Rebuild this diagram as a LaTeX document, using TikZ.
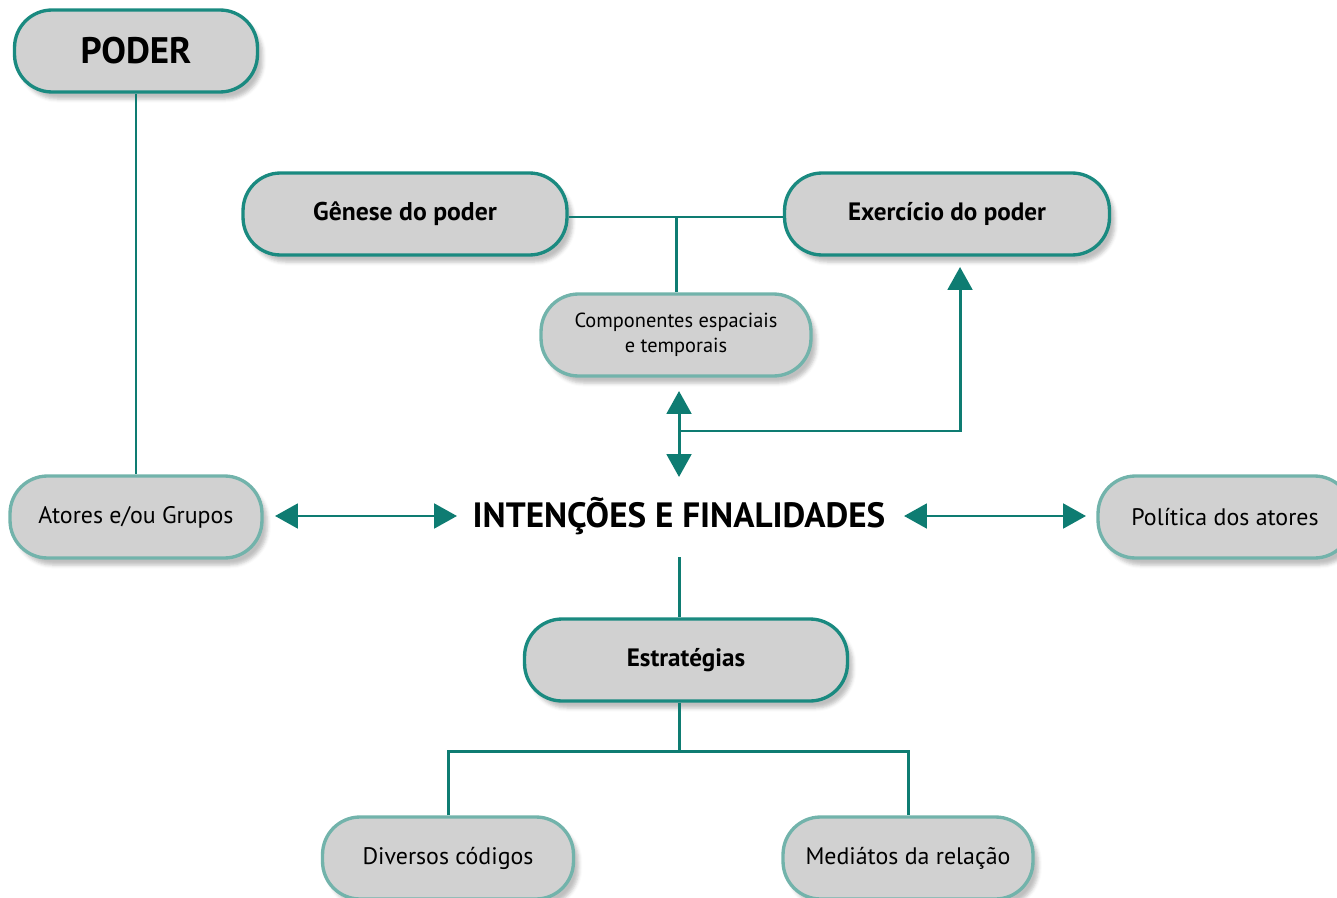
\documentclass[tikz,border=0pt]{standalone}
\usepackage{fontspec}
\setmainfont{PT Sans}
\usetikzlibrary{arrows.meta,shadows.blur}
\definecolor{tealline}{HTML}{0E7C72}
\definecolor{tealdark}{HTML}{1A8A80}
\definecolor{teallight}{HTML}{72B3AB}
\definecolor{boxgray}{HTML}{D1D1D1}
\tikzset{
  conceptbox/.style={rounded corners=0.75cm, fill=boxgray, line width=1.9pt,
    minimum height=1.64cm, align=center,
    blur shadow={shadow xshift=3pt, shadow yshift=-4pt, shadow opacity=25}},
  headbox/.style={conceptbox, draw=tealdark, font=\bfseries\fontsize{14.3}{16}\selectfont},
  leafbox/.style={conceptbox, draw=teallight, font=\fontsize{13.6}{16}\selectfont},
  link/.style={draw=tealline, line width=1.7pt},
  twoway/.style={link, {Triangle[length=13pt,width=14pt]}-{Triangle[length=13pt,width=14pt]}},
}
\begin{document}
\begin{tikzpicture}[x=0.02cm,y=-0.02cm]
  \useasboundingbox (0,0) rectangle (1337,898);
  \node[headbox, minimum width=4.86cm, font=\bfseries\fontsize{21}{24}\selectfont] (poder) at (136,51) {PODER};
  \node[headbox, minimum width=6.48cm, font=\bfseries\fontsize{14.6}{16}\selectfont] (genese) at (405,214) {Gênese do poder};
  \node[headbox, minimum width=6.5cm] (exercicio) at (947,214) {Exercício do poder};
  \node[leafbox, minimum width=5.4cm, font=\fontsize{11.6}{14.5}\selectfont] (comp) at (676,335) {Componentes espaciais\\e temporais};
  \node[leafbox, minimum width=5.04cm] (atores) at (136,517) {Atores e/ou Grupos};
  \node[font=\bfseries\fontsize{20}{24}\selectfont] (intencoes) at (679,516) {INTENÇÕES E FINALIDADES};
  \node[leafbox, minimum width=5.08cm] (politica) at (1225,517) {Política dos atores};
  \node[headbox, minimum width=6.46cm] (estrategias) at (686,660) {Estratégias};
  \node[leafbox, minimum width=5.02cm] (diversos) at (448,858) {Diversos códigos};
  \node[leafbox, minimum width=5.0cm] (mediatos) at (908,858) {Mediátos da relação};

  \coordinate (gmid) at (676,217);
  \coordinate (vtop) at (679,391);
  \coordinate (vbot) at (679,477);
  \coordinate (branch) at (679,431);
  \coordinate (extip) at (960,267);
  \coordinate (aleft) at (275,516);
  \coordinate (aright) at (457,516);
  \coordinate (pleft) at (904,516);
  \coordinate (pright) at (1086,516);
  \coordinate (isouth) at (679,557);
  \coordinate (fork) at (679,751);

  \draw[link] (poder) -- (atores);
  \draw[link] (genese.east |- gmid) -- (exercicio.west |- gmid);
  \draw[link] (gmid) -- (comp);
  \draw[twoway] (vtop) -- (vbot);
  \draw[link, -{Triangle[length=13pt,width=14pt]}] (branch) -| (extip);
  \draw[twoway] (aleft) -- (aright);
  \draw[twoway] (pleft) -- (pright);
  \draw[link] (isouth) -- (isouth |- estrategias.north);
  \draw[link] (fork |- estrategias.south) -- (fork);
  \draw[link] (diversos) |- (fork) -| (mediatos);
\end{tikzpicture}
\end{document}
